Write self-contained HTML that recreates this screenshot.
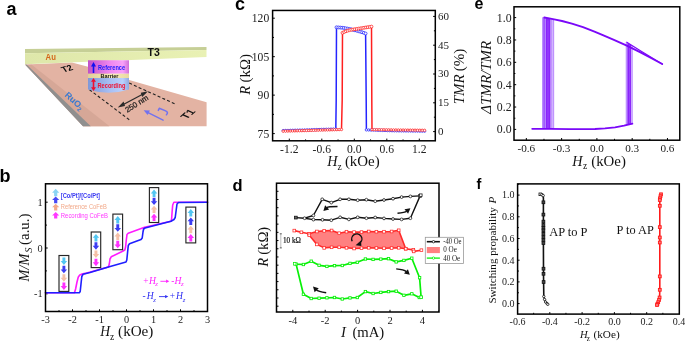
<!DOCTYPE html>
<html><head><meta charset="utf-8"><style>
html,body{margin:0;padding:0;background:#fff;width:685px;height:341px;overflow:hidden}
svg{display:block;will-change:transform}
</style></head><body>
<svg width="685" height="341" viewBox="0 0 685 341">
<defs>
<linearGradient id="gmag" x1="0" x2="1" y1="0" y2="0">
<stop offset="0" stop-color="#c050c8"/><stop offset="0.55" stop-color="#f088f0"/><stop offset="0.85" stop-color="#f8a0f8"/><stop offset="1" stop-color="#d070d8"/></linearGradient>
<linearGradient id="gblu" x1="0" x2="1" y1="0" y2="0">
<stop offset="0" stop-color="#8098d8"/><stop offset="0.55" stop-color="#a8c0f4"/><stop offset="0.85" stop-color="#b8d0fc"/><stop offset="1" stop-color="#90a8e0"/></linearGradient>
<linearGradient id="gbar" x1="0" x2="1" y1="0" y2="0">
<stop offset="0" stop-color="#e0d098"/><stop offset="0.6" stop-color="#f8ecb8"/><stop offset="1" stop-color="#e8d8a0"/></linearGradient>
<linearGradient id="gau" x1="0" x2="1" y1="0" y2="0"><stop offset="0" stop-color="#dee7aa"/><stop offset="1" stop-color="#e9f1b4"/></linearGradient>
</defs><polygon points="25,64.5 72,62.5 88,66.8 129.2,79.9 206.6,102.2 206.6,126.2 83.1,126.2" fill="#e3b3a3"/><polygon points="25.3,64.8 31.7,64.8 109.5,126.2 83.1,126.2" fill="#d6a797"/><polygon points="25.0,64.6 26.6,64.6 90.8,126.2 82.9,126.2" fill="#8f8f8f"/><polygon points="25,49.1 206.5,47.0 206.5,49.9 25,53.2" fill="#c6cf96"/><polygon points="25,53.2 206.5,49.9 206.5,56.9 25,64.3" fill="url(#gau)"/><line x1="129.2" y1="83.1" x2="175.5" y2="104.1" stroke="#222" stroke-width="1.1" stroke-dasharray="3,2.2"/><line x1="89.5" y1="89.7" x2="130" y2="120.3" stroke="#222" stroke-width="1.1" stroke-dasharray="3,2.2"/><path d="M88,60.3 L129,60.3 L129,73.8 L88,73.8 Z" fill="url(#gmag)"/><path d="M88,73.8 L129,73.8 L129,77.9 L88,77.9 Z" fill="url(#gbar)"/><path d="M88,77.9 L129,77.9 L129,89.5 Q108.5,96 88,89.5 Z" fill="url(#gblu)"/><polygon points="93.5,62 96,66.5 94.3,66.5 94.3,73 92.7,73 92.7,66.5 91,66.5" fill="#1010f0"/><polygon points="93.5,78 96,81.8 94.3,81.8 94.3,87.2 96,87.2 93.5,91 91,87.2 92.7,87.2 92.7,81.8 91,81.8" fill="#f01030"/><text x="98" y="70" font-family='"Liberation Sans", sans-serif' font-size="6.6" font-weight="bold" fill="#1a1aff" textLength="27" lengthAdjust="spacingAndGlyphs">Reference</text><text x="100.5" y="78.2" font-family='"Liberation Sans", sans-serif' font-size="5.4" font-weight="bold" fill="#111" textLength="18" lengthAdjust="spacingAndGlyphs">Barrier</text><text x="97.5" y="87.5" font-family='"Liberation Sans", sans-serif' font-size="6.6" font-weight="bold" fill="#f01030" textLength="28" lengthAdjust="spacingAndGlyphs">Recording</text><text x="45.6" y="59.8" font-family='"Liberation Sans", sans-serif' font-size="8.3" font-weight="bold" fill="#d4661a" textLength="10.3" lengthAdjust="spacingAndGlyphs">Au</text><text x="147.6" y="56.3" font-family='"Liberation Sans", sans-serif' font-size="10.5" font-weight="bold" fill="#111">T3</text><text transform="matrix(0.96,-0.28,0.57,0.82,63.8,72.5)" font-family='"Liberation Sans", sans-serif' font-size="9" font-weight="bold" fill="#111">T2</text><text transform="matrix(0.75,-0.66,0.9,0.42,186.5,119.8)" font-family='"Liberation Sans", sans-serif' font-size="10.8" font-weight="bold" fill="#111">T1</text><text transform="translate(64.2,95.8) rotate(42)" font-family='"Liberation Sans", sans-serif' font-size="8.8" font-weight="bold" fill="#3a7ad0">RuO<tspan font-size="6" dy="2">2</tspan></text><text transform="translate(127.2,112.8) rotate(-32)" font-family='"Liberation Sans", sans-serif' font-size="7.7" fill="#1a1a1a" stroke="#1a1a1a" stroke-width="0.25">250 nm</text><line x1="121" y1="105.8" x2="145" y2="93" stroke="#2a2a2a" stroke-width="1.25"/><polygon points="117.8,107.4 123.6,101.6 125.0,106.0" fill="#2a2a2a"/><polygon points="148.0,91.3 142.2,97.1 140.8,92.7" fill="#2a2a2a"/><line x1="163.1" y1="120.2" x2="147.6" y2="112.3" stroke="#7272ee" stroke-width="1.4" stroke-linecap="round"/><polygon points="143.7,110.3 149.9,110.4 147.6,115.0" fill="#7272ee"/><path d="M158.3,110.4 L159.3,108.3 L165.6,110.9 Q167.9,112.0 167.3,113.4 L166.4,114.8" fill="none" stroke="#7272ee" stroke-width="1.5" stroke-linecap="round" stroke-linejoin="round"/>
<line x1="289.30" y1="140.80" x2="289.30" y2="138.60" stroke="#000" stroke-width="1"/><line x1="305.55" y1="140.80" x2="305.55" y2="139.40" stroke="#000" stroke-width="1"/><line x1="321.80" y1="140.80" x2="321.80" y2="138.60" stroke="#000" stroke-width="1"/><line x1="338.05" y1="140.80" x2="338.05" y2="139.40" stroke="#000" stroke-width="1"/><line x1="354.30" y1="140.80" x2="354.30" y2="138.60" stroke="#000" stroke-width="1"/><line x1="370.55" y1="140.80" x2="370.55" y2="139.40" stroke="#000" stroke-width="1"/><line x1="386.80" y1="140.80" x2="386.80" y2="138.60" stroke="#000" stroke-width="1"/><line x1="403.05" y1="140.80" x2="403.05" y2="139.40" stroke="#000" stroke-width="1"/><line x1="419.30" y1="140.80" x2="419.30" y2="138.60" stroke="#000" stroke-width="1"/><line x1="272.60" y1="133.60" x2="274.80" y2="133.60" stroke="#000" stroke-width="1"/><line x1="272.60" y1="114.37" x2="274.00" y2="114.37" stroke="#000" stroke-width="1"/><line x1="272.60" y1="95.13" x2="274.80" y2="95.13" stroke="#000" stroke-width="1"/><line x1="272.60" y1="75.90" x2="274.00" y2="75.90" stroke="#000" stroke-width="1"/><line x1="272.60" y1="56.67" x2="274.80" y2="56.67" stroke="#000" stroke-width="1"/><line x1="272.60" y1="37.43" x2="274.00" y2="37.43" stroke="#000" stroke-width="1"/><line x1="272.60" y1="18.20" x2="274.80" y2="18.20" stroke="#000" stroke-width="1"/><line x1="435.30" y1="131.60" x2="433.10" y2="131.60" stroke="#000" stroke-width="1"/><line x1="435.30" y1="117.20" x2="433.90" y2="117.20" stroke="#000" stroke-width="1"/><line x1="435.30" y1="102.80" x2="433.10" y2="102.80" stroke="#000" stroke-width="1"/><line x1="435.30" y1="88.40" x2="433.90" y2="88.40" stroke="#000" stroke-width="1"/><line x1="435.30" y1="74.00" x2="433.10" y2="74.00" stroke="#000" stroke-width="1"/><line x1="435.30" y1="59.60" x2="433.90" y2="59.60" stroke="#000" stroke-width="1"/><line x1="435.30" y1="45.20" x2="433.10" y2="45.20" stroke="#000" stroke-width="1"/><line x1="435.30" y1="30.80" x2="433.90" y2="30.80" stroke="#000" stroke-width="1"/><line x1="435.30" y1="16.40" x2="433.10" y2="16.40" stroke="#000" stroke-width="1"/><text x="289.30" y="153.2" font-family='"Liberation Serif", serif' font-size="11.6" text-anchor="middle" fill="#222">-1.2</text><text x="321.80" y="153.2" font-family='"Liberation Serif", serif' font-size="11.6" text-anchor="middle" fill="#222">-0.6</text><text x="354.30" y="153.2" font-family='"Liberation Serif", serif' font-size="11.6" text-anchor="middle" fill="#222">0.0</text><text x="386.80" y="153.2" font-family='"Liberation Serif", serif' font-size="11.6" text-anchor="middle" fill="#222">0.6</text><text x="419.30" y="153.2" font-family='"Liberation Serif", serif' font-size="11.6" text-anchor="middle" fill="#222">1.2</text><text x="269.2" y="137.50" font-family='"Liberation Serif", serif' font-size="11.6" text-anchor="end" fill="#222">75</text><text x="269.2" y="99.03" font-family='"Liberation Serif", serif' font-size="11.6" text-anchor="end" fill="#222">90</text><text x="269.2" y="60.57" font-family='"Liberation Serif", serif' font-size="11.6" text-anchor="end" fill="#222">105</text><text x="269.2" y="22.10" font-family='"Liberation Serif", serif' font-size="11.6" text-anchor="end" fill="#222">120</text><text x="438.0" y="135.00" font-family='"Liberation Serif", serif' font-size="11" text-anchor="start" fill="#222">0</text><text x="438.0" y="106.20" font-family='"Liberation Serif", serif' font-size="11" text-anchor="start" fill="#222">15</text><text x="438.0" y="77.40" font-family='"Liberation Serif", serif' font-size="11" text-anchor="start" fill="#222">30</text><text x="438.0" y="48.60" font-family='"Liberation Serif", serif' font-size="11" text-anchor="start" fill="#222">45</text><text x="438.0" y="19.80" font-family='"Liberation Serif", serif' font-size="11" text-anchor="start" fill="#222">60</text><polyline points="283.20,130.60 335.80,129.00 336.20,100.00 336.50,27.30 343.00,27.80 350.00,29.00 357.00,30.80 362.00,32.20 365.60,33.50 366.20,100.00 366.40,129.90 395.00,130.80 424.60,131.20" fill="none" stroke="#2424ff" stroke-width="1.5" stroke-linejoin="round"/><circle cx="283.20" cy="130.60" r="1.2" fill="#fff" stroke="#2424ff" stroke-width="0.75"/><circle cx="285.59" cy="130.53" r="1.2" fill="#fff" stroke="#2424ff" stroke-width="0.75"/><circle cx="287.98" cy="130.45" r="1.2" fill="#fff" stroke="#2424ff" stroke-width="0.75"/><circle cx="290.37" cy="130.38" r="1.2" fill="#fff" stroke="#2424ff" stroke-width="0.75"/><circle cx="292.76" cy="130.31" r="1.2" fill="#fff" stroke="#2424ff" stroke-width="0.75"/><circle cx="295.15" cy="130.24" r="1.2" fill="#fff" stroke="#2424ff" stroke-width="0.75"/><circle cx="297.55" cy="130.16" r="1.2" fill="#fff" stroke="#2424ff" stroke-width="0.75"/><circle cx="299.94" cy="130.09" r="1.2" fill="#fff" stroke="#2424ff" stroke-width="0.75"/><circle cx="302.33" cy="130.02" r="1.2" fill="#fff" stroke="#2424ff" stroke-width="0.75"/><circle cx="304.72" cy="129.95" r="1.2" fill="#fff" stroke="#2424ff" stroke-width="0.75"/><circle cx="307.11" cy="129.87" r="1.2" fill="#fff" stroke="#2424ff" stroke-width="0.75"/><circle cx="309.50" cy="129.80" r="1.2" fill="#fff" stroke="#2424ff" stroke-width="0.75"/><circle cx="311.89" cy="129.73" r="1.2" fill="#fff" stroke="#2424ff" stroke-width="0.75"/><circle cx="314.28" cy="129.65" r="1.2" fill="#fff" stroke="#2424ff" stroke-width="0.75"/><circle cx="316.67" cy="129.58" r="1.2" fill="#fff" stroke="#2424ff" stroke-width="0.75"/><circle cx="319.06" cy="129.51" r="1.2" fill="#fff" stroke="#2424ff" stroke-width="0.75"/><circle cx="321.45" cy="129.44" r="1.2" fill="#fff" stroke="#2424ff" stroke-width="0.75"/><circle cx="323.85" cy="129.36" r="1.2" fill="#fff" stroke="#2424ff" stroke-width="0.75"/><circle cx="326.24" cy="129.29" r="1.2" fill="#fff" stroke="#2424ff" stroke-width="0.75"/><circle cx="328.63" cy="129.22" r="1.2" fill="#fff" stroke="#2424ff" stroke-width="0.75"/><circle cx="331.02" cy="129.15" r="1.2" fill="#fff" stroke="#2424ff" stroke-width="0.75"/><circle cx="333.41" cy="129.07" r="1.2" fill="#fff" stroke="#2424ff" stroke-width="0.75"/><circle cx="335.80" cy="129.00" r="1.2" fill="#fff" stroke="#2424ff" stroke-width="0.75"/><circle cx="336.50" cy="27.30" r="1.45" fill="#fff" stroke="#2424ff" stroke-width="0.75"/><circle cx="338.36" cy="27.44" r="1.45" fill="#fff" stroke="#2424ff" stroke-width="0.75"/><circle cx="340.22" cy="27.59" r="1.45" fill="#fff" stroke="#2424ff" stroke-width="0.75"/><circle cx="342.08" cy="27.73" r="1.45" fill="#fff" stroke="#2424ff" stroke-width="0.75"/><circle cx="343.93" cy="27.96" r="1.45" fill="#fff" stroke="#2424ff" stroke-width="0.75"/><circle cx="345.77" cy="28.28" r="1.45" fill="#fff" stroke="#2424ff" stroke-width="0.75"/><circle cx="347.61" cy="28.59" r="1.45" fill="#fff" stroke="#2424ff" stroke-width="0.75"/><circle cx="349.45" cy="28.91" r="1.45" fill="#fff" stroke="#2424ff" stroke-width="0.75"/><circle cx="351.27" cy="29.33" r="1.45" fill="#fff" stroke="#2424ff" stroke-width="0.75"/><circle cx="353.08" cy="29.79" r="1.45" fill="#fff" stroke="#2424ff" stroke-width="0.75"/><circle cx="354.89" cy="30.26" r="1.45" fill="#fff" stroke="#2424ff" stroke-width="0.75"/><circle cx="356.70" cy="30.72" r="1.45" fill="#fff" stroke="#2424ff" stroke-width="0.75"/><circle cx="358.50" cy="31.22" r="1.45" fill="#fff" stroke="#2424ff" stroke-width="0.75"/><circle cx="360.29" cy="31.72" r="1.45" fill="#fff" stroke="#2424ff" stroke-width="0.75"/><circle cx="362.09" cy="32.23" r="1.45" fill="#fff" stroke="#2424ff" stroke-width="0.75"/><circle cx="363.84" cy="32.87" r="1.45" fill="#fff" stroke="#2424ff" stroke-width="0.75"/><circle cx="365.60" cy="33.50" r="1.45" fill="#fff" stroke="#2424ff" stroke-width="0.75"/><circle cx="366.40" cy="129.90" r="1.2" fill="#fff" stroke="#2424ff" stroke-width="0.75"/><circle cx="368.73" cy="129.97" r="1.2" fill="#fff" stroke="#2424ff" stroke-width="0.75"/><circle cx="371.06" cy="130.05" r="1.2" fill="#fff" stroke="#2424ff" stroke-width="0.75"/><circle cx="373.38" cy="130.12" r="1.2" fill="#fff" stroke="#2424ff" stroke-width="0.75"/><circle cx="375.71" cy="130.19" r="1.2" fill="#fff" stroke="#2424ff" stroke-width="0.75"/><circle cx="378.04" cy="130.27" r="1.2" fill="#fff" stroke="#2424ff" stroke-width="0.75"/><circle cx="380.37" cy="130.34" r="1.2" fill="#fff" stroke="#2424ff" stroke-width="0.75"/><circle cx="382.69" cy="130.41" r="1.2" fill="#fff" stroke="#2424ff" stroke-width="0.75"/><circle cx="385.02" cy="130.49" r="1.2" fill="#fff" stroke="#2424ff" stroke-width="0.75"/><circle cx="387.35" cy="130.56" r="1.2" fill="#fff" stroke="#2424ff" stroke-width="0.75"/><circle cx="389.68" cy="130.63" r="1.2" fill="#fff" stroke="#2424ff" stroke-width="0.75"/><circle cx="392.00" cy="130.71" r="1.2" fill="#fff" stroke="#2424ff" stroke-width="0.75"/><circle cx="394.33" cy="130.78" r="1.2" fill="#fff" stroke="#2424ff" stroke-width="0.75"/><circle cx="396.66" cy="130.82" r="1.2" fill="#fff" stroke="#2424ff" stroke-width="0.75"/><circle cx="398.99" cy="130.85" r="1.2" fill="#fff" stroke="#2424ff" stroke-width="0.75"/><circle cx="401.32" cy="130.89" r="1.2" fill="#fff" stroke="#2424ff" stroke-width="0.75"/><circle cx="403.64" cy="130.92" r="1.2" fill="#fff" stroke="#2424ff" stroke-width="0.75"/><circle cx="405.97" cy="130.95" r="1.2" fill="#fff" stroke="#2424ff" stroke-width="0.75"/><circle cx="408.30" cy="130.98" r="1.2" fill="#fff" stroke="#2424ff" stroke-width="0.75"/><circle cx="410.63" cy="131.01" r="1.2" fill="#fff" stroke="#2424ff" stroke-width="0.75"/><circle cx="412.96" cy="131.04" r="1.2" fill="#fff" stroke="#2424ff" stroke-width="0.75"/><circle cx="415.29" cy="131.07" r="1.2" fill="#fff" stroke="#2424ff" stroke-width="0.75"/><circle cx="417.61" cy="131.11" r="1.2" fill="#fff" stroke="#2424ff" stroke-width="0.75"/><circle cx="419.94" cy="131.14" r="1.2" fill="#fff" stroke="#2424ff" stroke-width="0.75"/><circle cx="422.27" cy="131.17" r="1.2" fill="#fff" stroke="#2424ff" stroke-width="0.75"/><circle cx="424.60" cy="131.20" r="1.2" fill="#fff" stroke="#2424ff" stroke-width="0.75"/><polyline points="283.20,131.20 341.50,129.50 342.20,100.00 342.50,32.80 346.00,31.20 350.00,30.00 355.00,29.20 360.00,28.40 365.00,27.60 371.50,26.60 371.80,100.00 372.00,129.60 400.00,130.00 424.60,130.30" fill="none" stroke="#ff2020" stroke-width="1.5" stroke-linejoin="round"/><circle cx="283.20" cy="131.20" r="1.2" fill="#fff" stroke="#ff2020" stroke-width="0.75"/><circle cx="285.53" cy="131.13" r="1.2" fill="#fff" stroke="#ff2020" stroke-width="0.75"/><circle cx="287.86" cy="131.06" r="1.2" fill="#fff" stroke="#ff2020" stroke-width="0.75"/><circle cx="290.20" cy="131.00" r="1.2" fill="#fff" stroke="#ff2020" stroke-width="0.75"/><circle cx="292.53" cy="130.93" r="1.2" fill="#fff" stroke="#ff2020" stroke-width="0.75"/><circle cx="294.86" cy="130.86" r="1.2" fill="#fff" stroke="#ff2020" stroke-width="0.75"/><circle cx="297.19" cy="130.79" r="1.2" fill="#fff" stroke="#ff2020" stroke-width="0.75"/><circle cx="299.52" cy="130.72" r="1.2" fill="#fff" stroke="#ff2020" stroke-width="0.75"/><circle cx="301.86" cy="130.66" r="1.2" fill="#fff" stroke="#ff2020" stroke-width="0.75"/><circle cx="304.19" cy="130.59" r="1.2" fill="#fff" stroke="#ff2020" stroke-width="0.75"/><circle cx="306.52" cy="130.52" r="1.2" fill="#fff" stroke="#ff2020" stroke-width="0.75"/><circle cx="308.85" cy="130.45" r="1.2" fill="#fff" stroke="#ff2020" stroke-width="0.75"/><circle cx="311.18" cy="130.38" r="1.2" fill="#fff" stroke="#ff2020" stroke-width="0.75"/><circle cx="313.52" cy="130.32" r="1.2" fill="#fff" stroke="#ff2020" stroke-width="0.75"/><circle cx="315.85" cy="130.25" r="1.2" fill="#fff" stroke="#ff2020" stroke-width="0.75"/><circle cx="318.18" cy="130.18" r="1.2" fill="#fff" stroke="#ff2020" stroke-width="0.75"/><circle cx="320.51" cy="130.11" r="1.2" fill="#fff" stroke="#ff2020" stroke-width="0.75"/><circle cx="322.84" cy="130.04" r="1.2" fill="#fff" stroke="#ff2020" stroke-width="0.75"/><circle cx="325.18" cy="129.98" r="1.2" fill="#fff" stroke="#ff2020" stroke-width="0.75"/><circle cx="327.51" cy="129.91" r="1.2" fill="#fff" stroke="#ff2020" stroke-width="0.75"/><circle cx="329.84" cy="129.84" r="1.2" fill="#fff" stroke="#ff2020" stroke-width="0.75"/><circle cx="332.17" cy="129.77" r="1.2" fill="#fff" stroke="#ff2020" stroke-width="0.75"/><circle cx="334.50" cy="129.70" r="1.2" fill="#fff" stroke="#ff2020" stroke-width="0.75"/><circle cx="336.84" cy="129.64" r="1.2" fill="#fff" stroke="#ff2020" stroke-width="0.75"/><circle cx="339.17" cy="129.57" r="1.2" fill="#fff" stroke="#ff2020" stroke-width="0.75"/><circle cx="341.50" cy="129.50" r="1.2" fill="#fff" stroke="#ff2020" stroke-width="0.75"/><circle cx="342.50" cy="32.80" r="1.45" fill="#fff" stroke="#ff2020" stroke-width="0.75"/><circle cx="344.19" cy="32.03" r="1.45" fill="#fff" stroke="#ff2020" stroke-width="0.75"/><circle cx="345.89" cy="31.25" r="1.45" fill="#fff" stroke="#ff2020" stroke-width="0.75"/><circle cx="347.66" cy="30.70" r="1.45" fill="#fff" stroke="#ff2020" stroke-width="0.75"/><circle cx="349.45" cy="30.17" r="1.45" fill="#fff" stroke="#ff2020" stroke-width="0.75"/><circle cx="351.27" cy="29.80" r="1.45" fill="#fff" stroke="#ff2020" stroke-width="0.75"/><circle cx="353.11" cy="29.50" r="1.45" fill="#fff" stroke="#ff2020" stroke-width="0.75"/><circle cx="354.95" cy="29.21" r="1.45" fill="#fff" stroke="#ff2020" stroke-width="0.75"/><circle cx="356.79" cy="28.91" r="1.45" fill="#fff" stroke="#ff2020" stroke-width="0.75"/><circle cx="358.62" cy="28.62" r="1.45" fill="#fff" stroke="#ff2020" stroke-width="0.75"/><circle cx="360.46" cy="28.33" r="1.45" fill="#fff" stroke="#ff2020" stroke-width="0.75"/><circle cx="362.30" cy="28.03" r="1.45" fill="#fff" stroke="#ff2020" stroke-width="0.75"/><circle cx="364.14" cy="27.74" r="1.45" fill="#fff" stroke="#ff2020" stroke-width="0.75"/><circle cx="365.98" cy="27.45" r="1.45" fill="#fff" stroke="#ff2020" stroke-width="0.75"/><circle cx="367.82" cy="27.17" r="1.45" fill="#fff" stroke="#ff2020" stroke-width="0.75"/><circle cx="369.66" cy="26.88" r="1.45" fill="#fff" stroke="#ff2020" stroke-width="0.75"/><circle cx="371.50" cy="26.60" r="1.45" fill="#fff" stroke="#ff2020" stroke-width="0.75"/><circle cx="372.00" cy="129.60" r="1.2" fill="#fff" stroke="#ff2020" stroke-width="0.75"/><circle cx="374.39" cy="129.63" r="1.2" fill="#fff" stroke="#ff2020" stroke-width="0.75"/><circle cx="376.78" cy="129.67" r="1.2" fill="#fff" stroke="#ff2020" stroke-width="0.75"/><circle cx="379.17" cy="129.70" r="1.2" fill="#fff" stroke="#ff2020" stroke-width="0.75"/><circle cx="381.56" cy="129.74" r="1.2" fill="#fff" stroke="#ff2020" stroke-width="0.75"/><circle cx="383.95" cy="129.77" r="1.2" fill="#fff" stroke="#ff2020" stroke-width="0.75"/><circle cx="386.35" cy="129.80" r="1.2" fill="#fff" stroke="#ff2020" stroke-width="0.75"/><circle cx="388.74" cy="129.84" r="1.2" fill="#fff" stroke="#ff2020" stroke-width="0.75"/><circle cx="391.13" cy="129.87" r="1.2" fill="#fff" stroke="#ff2020" stroke-width="0.75"/><circle cx="393.52" cy="129.91" r="1.2" fill="#fff" stroke="#ff2020" stroke-width="0.75"/><circle cx="395.91" cy="129.94" r="1.2" fill="#fff" stroke="#ff2020" stroke-width="0.75"/><circle cx="398.30" cy="129.98" r="1.2" fill="#fff" stroke="#ff2020" stroke-width="0.75"/><circle cx="400.69" cy="130.01" r="1.2" fill="#fff" stroke="#ff2020" stroke-width="0.75"/><circle cx="403.08" cy="130.04" r="1.2" fill="#fff" stroke="#ff2020" stroke-width="0.75"/><circle cx="405.47" cy="130.07" r="1.2" fill="#fff" stroke="#ff2020" stroke-width="0.75"/><circle cx="407.86" cy="130.10" r="1.2" fill="#fff" stroke="#ff2020" stroke-width="0.75"/><circle cx="410.25" cy="130.13" r="1.2" fill="#fff" stroke="#ff2020" stroke-width="0.75"/><circle cx="412.65" cy="130.15" r="1.2" fill="#fff" stroke="#ff2020" stroke-width="0.75"/><circle cx="415.04" cy="130.18" r="1.2" fill="#fff" stroke="#ff2020" stroke-width="0.75"/><circle cx="417.43" cy="130.21" r="1.2" fill="#fff" stroke="#ff2020" stroke-width="0.75"/><circle cx="419.82" cy="130.24" r="1.2" fill="#fff" stroke="#ff2020" stroke-width="0.75"/><circle cx="422.21" cy="130.27" r="1.2" fill="#fff" stroke="#ff2020" stroke-width="0.75"/><circle cx="424.60" cy="130.30" r="1.2" fill="#fff" stroke="#ff2020" stroke-width="0.75"/><rect x="272.6" y="10.45" width="162.70" height="130.35" fill="none" stroke="#000" stroke-width="1.5"/>
<line x1="276.60" y1="312.00" x2="276.60" y2="310.60" stroke="#000" stroke-width="1"/><line x1="292.80" y1="312.00" x2="292.80" y2="309.80" stroke="#000" stroke-width="1"/><line x1="309.00" y1="312.00" x2="309.00" y2="310.60" stroke="#000" stroke-width="1"/><line x1="325.20" y1="312.00" x2="325.20" y2="309.80" stroke="#000" stroke-width="1"/><line x1="341.40" y1="312.00" x2="341.40" y2="310.60" stroke="#000" stroke-width="1"/><line x1="357.60" y1="312.00" x2="357.60" y2="309.80" stroke="#000" stroke-width="1"/><line x1="373.80" y1="312.00" x2="373.80" y2="310.60" stroke="#000" stroke-width="1"/><line x1="390.00" y1="312.00" x2="390.00" y2="309.80" stroke="#000" stroke-width="1"/><line x1="406.20" y1="312.00" x2="406.20" y2="310.60" stroke="#000" stroke-width="1"/><line x1="422.40" y1="312.00" x2="422.40" y2="309.80" stroke="#000" stroke-width="1"/><line x1="438.60" y1="312.00" x2="438.60" y2="310.60" stroke="#000" stroke-width="1"/><line x1="276.50" y1="191.30" x2="278.50" y2="191.30" stroke="#000" stroke-width="1"/><line x1="276.50" y1="199.51" x2="278.50" y2="199.51" stroke="#000" stroke-width="1"/><line x1="276.50" y1="207.71" x2="278.50" y2="207.71" stroke="#000" stroke-width="1"/><line x1="276.50" y1="215.92" x2="278.50" y2="215.92" stroke="#000" stroke-width="1"/><line x1="276.50" y1="224.13" x2="278.50" y2="224.13" stroke="#000" stroke-width="1"/><line x1="276.50" y1="232.34" x2="278.50" y2="232.34" stroke="#000" stroke-width="1"/><line x1="276.50" y1="240.54" x2="278.50" y2="240.54" stroke="#000" stroke-width="1"/><line x1="276.50" y1="248.75" x2="278.50" y2="248.75" stroke="#000" stroke-width="1"/><line x1="276.50" y1="256.96" x2="278.50" y2="256.96" stroke="#000" stroke-width="1"/><line x1="276.50" y1="265.16" x2="278.50" y2="265.16" stroke="#000" stroke-width="1"/><line x1="276.50" y1="273.37" x2="278.50" y2="273.37" stroke="#000" stroke-width="1"/><line x1="276.50" y1="281.58" x2="278.50" y2="281.58" stroke="#000" stroke-width="1"/><line x1="276.50" y1="289.78" x2="278.50" y2="289.78" stroke="#000" stroke-width="1"/><line x1="276.50" y1="297.99" x2="278.50" y2="297.99" stroke="#000" stroke-width="1"/><line x1="276.50" y1="306.20" x2="278.50" y2="306.20" stroke="#000" stroke-width="1"/><text x="292.80" y="323.7" font-family='"Liberation Serif", serif' font-size="10.5" text-anchor="middle" fill="#222">-4</text><text x="325.20" y="323.7" font-family='"Liberation Serif", serif' font-size="10.5" text-anchor="middle" fill="#222">-2</text><text x="357.60" y="323.7" font-family='"Liberation Serif", serif' font-size="10.5" text-anchor="middle" fill="#222">0</text><text x="390.00" y="323.7" font-family='"Liberation Serif", serif' font-size="10.5" text-anchor="middle" fill="#222">2</text><text x="422.40" y="323.7" font-family='"Liberation Serif", serif' font-size="10.5" text-anchor="middle" fill="#222">4</text><line x1="280.80" y1="233.80" x2="280.80" y2="247.90" stroke="#aaa" stroke-width="0.8"/><line x1="279.80" y1="233.80" x2="281.80" y2="233.80" stroke="#333" stroke-width="0.8"/><line x1="279.80" y1="247.90" x2="281.80" y2="247.90" stroke="#333" stroke-width="0.8"/><text x="283" y="242.6" font-family='"Liberation Serif", serif' font-size="7.2" fill="#111" stroke="#111" stroke-width="0.2">10 kΩ</text><polygon points="309.10,233.80 316.90,231.50 324.20,230.90 331.60,230.50 339.20,233.20 346.50,231.70 354.10,232.10 361.50,232.10 368.70,231.50 376.40,231.70 384.00,231.70 391.60,231.50 398.70,230.30 405.70,248.70 405.70,248.70 398.70,247.80 391.60,248.00 384.00,248.30 376.40,248.00 368.70,247.80 361.50,248.20 354.10,248.50 346.50,247.80 339.20,247.30 331.60,247.30 324.20,247.90 316.90,244.40 309.30,235.30" fill="#ff8080" stroke="none" stroke-width="0" stroke-linejoin="round"/><polyline points="294.30,230.60 301.40,232.30 309.10,233.80 309.10,233.80 316.90,231.50 324.20,230.90 331.60,230.50 339.20,233.20 346.50,231.70 354.10,232.10 361.50,232.10 368.70,231.50 376.40,231.70 384.00,231.70 391.60,231.50 398.70,230.30" fill="none" stroke="#ff2a2a" stroke-width="1.6" stroke-linejoin="round"/><polyline points="309.10,233.80 309.30,235.30 316.90,244.40 324.20,247.90 331.60,247.30 339.20,247.30 346.50,247.80 354.10,248.50 361.50,248.20 368.70,247.80 376.40,248.00 384.00,248.30 391.60,248.00 398.70,247.80 405.70,248.70" fill="none" stroke="#ff2a2a" stroke-width="1.6" stroke-linejoin="round"/><polyline points="398.70,230.30 405.70,248.70 413.30,249.90 413.70,251.40 421.40,250.20" fill="none" stroke="#ff2a2a" stroke-width="1.6" stroke-linejoin="round"/><rect x="292.95" y="229.25" width="2.7" height="2.7" fill="#fff" stroke="#ff2a2a" stroke-width="0.75"/><rect x="300.05" y="230.95" width="2.7" height="2.7" fill="#fff" stroke="#ff2a2a" stroke-width="0.75"/><rect x="307.75" y="232.45" width="2.7" height="2.7" fill="#fff" stroke="#ff2a2a" stroke-width="0.75"/><rect x="307.75" y="232.45" width="2.7" height="2.7" fill="#fff" stroke="#ff2a2a" stroke-width="0.75"/><rect x="315.55" y="230.15" width="2.7" height="2.7" fill="#fff" stroke="#ff2a2a" stroke-width="0.75"/><rect x="322.85" y="229.55" width="2.7" height="2.7" fill="#fff" stroke="#ff2a2a" stroke-width="0.75"/><rect x="330.25" y="229.15" width="2.7" height="2.7" fill="#fff" stroke="#ff2a2a" stroke-width="0.75"/><rect x="337.85" y="231.85" width="2.7" height="2.7" fill="#fff" stroke="#ff2a2a" stroke-width="0.75"/><rect x="345.15" y="230.35" width="2.7" height="2.7" fill="#fff" stroke="#ff2a2a" stroke-width="0.75"/><rect x="352.75" y="230.75" width="2.7" height="2.7" fill="#fff" stroke="#ff2a2a" stroke-width="0.75"/><rect x="360.15" y="230.75" width="2.7" height="2.7" fill="#fff" stroke="#ff2a2a" stroke-width="0.75"/><rect x="367.35" y="230.15" width="2.7" height="2.7" fill="#fff" stroke="#ff2a2a" stroke-width="0.75"/><rect x="375.05" y="230.35" width="2.7" height="2.7" fill="#fff" stroke="#ff2a2a" stroke-width="0.75"/><rect x="382.65" y="230.35" width="2.7" height="2.7" fill="#fff" stroke="#ff2a2a" stroke-width="0.75"/><rect x="390.25" y="230.15" width="2.7" height="2.7" fill="#fff" stroke="#ff2a2a" stroke-width="0.75"/><rect x="397.35" y="228.95" width="2.7" height="2.7" fill="#fff" stroke="#ff2a2a" stroke-width="0.75"/><rect x="307.95" y="233.95" width="2.7" height="2.7" fill="#fff" stroke="#ff2a2a" stroke-width="0.75"/><rect x="315.55" y="243.05" width="2.7" height="2.7" fill="#fff" stroke="#ff2a2a" stroke-width="0.75"/><rect x="322.85" y="246.55" width="2.7" height="2.7" fill="#fff" stroke="#ff2a2a" stroke-width="0.75"/><rect x="330.25" y="245.95" width="2.7" height="2.7" fill="#fff" stroke="#ff2a2a" stroke-width="0.75"/><rect x="337.85" y="245.95" width="2.7" height="2.7" fill="#fff" stroke="#ff2a2a" stroke-width="0.75"/><rect x="345.15" y="246.45" width="2.7" height="2.7" fill="#fff" stroke="#ff2a2a" stroke-width="0.75"/><rect x="352.75" y="247.15" width="2.7" height="2.7" fill="#fff" stroke="#ff2a2a" stroke-width="0.75"/><rect x="360.15" y="246.85" width="2.7" height="2.7" fill="#fff" stroke="#ff2a2a" stroke-width="0.75"/><rect x="367.35" y="246.45" width="2.7" height="2.7" fill="#fff" stroke="#ff2a2a" stroke-width="0.75"/><rect x="375.05" y="246.65" width="2.7" height="2.7" fill="#fff" stroke="#ff2a2a" stroke-width="0.75"/><rect x="382.65" y="246.95" width="2.7" height="2.7" fill="#fff" stroke="#ff2a2a" stroke-width="0.75"/><rect x="390.25" y="246.65" width="2.7" height="2.7" fill="#fff" stroke="#ff2a2a" stroke-width="0.75"/><rect x="397.35" y="246.45" width="2.7" height="2.7" fill="#fff" stroke="#ff2a2a" stroke-width="0.75"/><rect x="404.35" y="247.35" width="2.7" height="2.7" fill="#fff" stroke="#ff2a2a" stroke-width="0.75"/><rect x="404.35" y="247.35" width="2.7" height="2.7" fill="#fff" stroke="#ff2a2a" stroke-width="0.75"/><rect x="411.95" y="248.55" width="2.7" height="2.7" fill="#fff" stroke="#ff2a2a" stroke-width="0.75"/><rect x="412.35" y="250.05" width="2.7" height="2.7" fill="#fff" stroke="#ff2a2a" stroke-width="0.75"/><rect x="420.05" y="248.85" width="2.7" height="2.7" fill="#fff" stroke="#ff2a2a" stroke-width="0.75"/><path d="M352.2,241.2 A5.1,5.1 0 1 1 360.4,242.6" fill="none" stroke="#111" stroke-width="1.4"/><polygon points="355.6,245.3 361.4,245.9 361.0,240.6" fill="#111"/><polyline points="295.80,217.60 304.60,218.20 313.40,215.50 322.20,199.30 331.30,202.60 340.10,199.30 348.90,199.30 357.70,200.20 366.40,199.70 375.20,201.20 384.00,200.00 393.00,198.70 401.60,197.10 410.40,196.40 420.10,195.90" fill="none" stroke="#111" stroke-width="1.4" stroke-linejoin="round"/><polyline points="304.60,218.20 313.40,219.60 322.50,219.80 331.30,220.20 340.10,217.30 348.90,219.40 357.70,217.30 366.40,218.20 375.20,217.50 384.00,218.40 393.00,219.00 401.60,219.40 410.40,218.20 420.10,195.90" fill="none" stroke="#111" stroke-width="1.4" stroke-linejoin="round"/><circle cx="304.60" cy="218.20" r="1.4" fill="#fff" stroke="#111" stroke-width="0.75"/><circle cx="313.40" cy="215.50" r="1.4" fill="#fff" stroke="#111" stroke-width="0.75"/><circle cx="322.20" cy="199.30" r="1.4" fill="#fff" stroke="#111" stroke-width="0.75"/><circle cx="331.30" cy="202.60" r="1.4" fill="#fff" stroke="#111" stroke-width="0.75"/><circle cx="340.10" cy="199.30" r="1.4" fill="#fff" stroke="#111" stroke-width="0.75"/><circle cx="348.90" cy="199.30" r="1.4" fill="#fff" stroke="#111" stroke-width="0.75"/><circle cx="357.70" cy="200.20" r="1.4" fill="#fff" stroke="#111" stroke-width="0.75"/><circle cx="366.40" cy="199.70" r="1.4" fill="#fff" stroke="#111" stroke-width="0.75"/><circle cx="375.20" cy="201.20" r="1.4" fill="#fff" stroke="#111" stroke-width="0.75"/><circle cx="384.00" cy="200.00" r="1.4" fill="#fff" stroke="#111" stroke-width="0.75"/><circle cx="393.00" cy="198.70" r="1.4" fill="#fff" stroke="#111" stroke-width="0.75"/><circle cx="401.60" cy="197.10" r="1.4" fill="#fff" stroke="#111" stroke-width="0.75"/><circle cx="410.40" cy="196.40" r="1.4" fill="#fff" stroke="#111" stroke-width="0.75"/><circle cx="313.40" cy="219.60" r="1.4" fill="#fff" stroke="#111" stroke-width="0.75"/><circle cx="322.50" cy="219.80" r="1.4" fill="#fff" stroke="#111" stroke-width="0.75"/><circle cx="331.30" cy="220.20" r="1.4" fill="#fff" stroke="#111" stroke-width="0.75"/><circle cx="340.10" cy="217.30" r="1.4" fill="#fff" stroke="#111" stroke-width="0.75"/><circle cx="348.90" cy="219.40" r="1.4" fill="#fff" stroke="#111" stroke-width="0.75"/><circle cx="357.70" cy="217.30" r="1.4" fill="#fff" stroke="#111" stroke-width="0.75"/><circle cx="366.40" cy="218.20" r="1.4" fill="#fff" stroke="#111" stroke-width="0.75"/><circle cx="375.20" cy="217.50" r="1.4" fill="#fff" stroke="#111" stroke-width="0.75"/><circle cx="384.00" cy="218.40" r="1.4" fill="#fff" stroke="#111" stroke-width="0.75"/><circle cx="393.00" cy="219.00" r="1.4" fill="#fff" stroke="#111" stroke-width="0.75"/><circle cx="401.60" cy="219.40" r="1.4" fill="#fff" stroke="#111" stroke-width="0.75"/><circle cx="410.40" cy="218.20" r="1.4" fill="#fff" stroke="#111" stroke-width="0.75"/><rect x="294.40" y="216.20" width="2.8" height="2.8" fill="#666" stroke="#111" stroke-width="0.75"/><rect x="418.70" y="194.50" width="2.8" height="2.8" fill="#fff" stroke="#111" stroke-width="0.75"/><rect x="419.50" y="193.90" width="2.6" height="2.6" fill="#fff" stroke="#111" stroke-width="0.75"/><path d="M337.50,206.50 Q328.00,206.50 326.76,207.71" fill="none" stroke="#111" stroke-width="1.4"/><polygon points="323.40,211.00 325.09,205.29 329.15,209.44" fill="#111"/><path d="M397.50,213.20 Q405.00,212.50 406.69,211.19" fill="none" stroke="#111" stroke-width="1.4"/><polygon points="410.40,208.30 408.08,213.78 404.51,209.20" fill="#111"/><polyline points="294.70,263.80 296.10,264.10 303.40,264.50 311.20,261.20 319.10,265.30 326.90,266.40 334.50,265.70 342.30,265.50 350.00,263.40 357.30,262.30 365.40,259.00 373.10,259.40 380.80,259.10 388.50,258.70 396.20,261.90 403.90,260.40 411.80,258.20 419.60,277.70 421.10,297.20" fill="none" stroke="#08f008" stroke-width="1.7" stroke-linejoin="round"/><polyline points="296.10,264.10 303.40,294.30 311.20,298.50 319.10,298.20 326.90,297.80 334.50,297.50 342.30,299.00 350.00,297.90 357.30,297.50 365.40,291.60 373.10,293.50 380.80,292.40 388.50,291.60 396.20,291.20 403.90,295.30 411.80,293.80 419.30,297.50 421.10,297.20" fill="none" stroke="#08f008" stroke-width="1.7" stroke-linejoin="round"/><rect x="294.90" y="262.90" width="2.4" height="2.4" fill="#fff" stroke="#08f008" stroke-width="0.85"/><rect x="302.20" y="263.30" width="2.4" height="2.4" fill="#fff" stroke="#08f008" stroke-width="0.85"/><rect x="310.00" y="260.00" width="2.4" height="2.4" fill="#fff" stroke="#08f008" stroke-width="0.85"/><rect x="317.90" y="264.10" width="2.4" height="2.4" fill="#fff" stroke="#08f008" stroke-width="0.85"/><rect x="325.70" y="265.20" width="2.4" height="2.4" fill="#fff" stroke="#08f008" stroke-width="0.85"/><rect x="333.30" y="264.50" width="2.4" height="2.4" fill="#fff" stroke="#08f008" stroke-width="0.85"/><rect x="341.10" y="264.30" width="2.4" height="2.4" fill="#fff" stroke="#08f008" stroke-width="0.85"/><rect x="348.80" y="262.20" width="2.4" height="2.4" fill="#fff" stroke="#08f008" stroke-width="0.85"/><rect x="356.10" y="261.10" width="2.4" height="2.4" fill="#fff" stroke="#08f008" stroke-width="0.85"/><rect x="364.20" y="257.80" width="2.4" height="2.4" fill="#fff" stroke="#08f008" stroke-width="0.85"/><rect x="371.90" y="258.20" width="2.4" height="2.4" fill="#fff" stroke="#08f008" stroke-width="0.85"/><rect x="379.60" y="257.90" width="2.4" height="2.4" fill="#fff" stroke="#08f008" stroke-width="0.85"/><rect x="387.30" y="257.50" width="2.4" height="2.4" fill="#fff" stroke="#08f008" stroke-width="0.85"/><rect x="395.00" y="260.70" width="2.4" height="2.4" fill="#fff" stroke="#08f008" stroke-width="0.85"/><rect x="402.70" y="259.20" width="2.4" height="2.4" fill="#fff" stroke="#08f008" stroke-width="0.85"/><rect x="410.60" y="257.00" width="2.4" height="2.4" fill="#fff" stroke="#08f008" stroke-width="0.85"/><rect x="418.40" y="276.50" width="2.4" height="2.4" fill="#fff" stroke="#08f008" stroke-width="0.85"/><rect x="302.20" y="293.10" width="2.4" height="2.4" fill="#fff" stroke="#08f008" stroke-width="0.85"/><rect x="310.00" y="297.30" width="2.4" height="2.4" fill="#fff" stroke="#08f008" stroke-width="0.85"/><rect x="317.90" y="297.00" width="2.4" height="2.4" fill="#fff" stroke="#08f008" stroke-width="0.85"/><rect x="325.70" y="296.60" width="2.4" height="2.4" fill="#fff" stroke="#08f008" stroke-width="0.85"/><rect x="333.30" y="296.30" width="2.4" height="2.4" fill="#fff" stroke="#08f008" stroke-width="0.85"/><rect x="341.10" y="297.80" width="2.4" height="2.4" fill="#fff" stroke="#08f008" stroke-width="0.85"/><rect x="348.80" y="296.70" width="2.4" height="2.4" fill="#fff" stroke="#08f008" stroke-width="0.85"/><rect x="356.10" y="296.30" width="2.4" height="2.4" fill="#fff" stroke="#08f008" stroke-width="0.85"/><rect x="364.20" y="290.40" width="2.4" height="2.4" fill="#fff" stroke="#08f008" stroke-width="0.85"/><rect x="371.90" y="292.30" width="2.4" height="2.4" fill="#fff" stroke="#08f008" stroke-width="0.85"/><rect x="379.60" y="291.20" width="2.4" height="2.4" fill="#fff" stroke="#08f008" stroke-width="0.85"/><rect x="387.30" y="290.40" width="2.4" height="2.4" fill="#fff" stroke="#08f008" stroke-width="0.85"/><rect x="395.00" y="290.00" width="2.4" height="2.4" fill="#fff" stroke="#08f008" stroke-width="0.85"/><rect x="402.70" y="294.10" width="2.4" height="2.4" fill="#fff" stroke="#08f008" stroke-width="0.85"/><rect x="410.60" y="292.60" width="2.4" height="2.4" fill="#fff" stroke="#08f008" stroke-width="0.85"/><rect x="418.10" y="296.30" width="2.4" height="2.4" fill="#fff" stroke="#08f008" stroke-width="0.85"/><rect x="419.90" y="296.00" width="2.4" height="2.4" fill="#fff" stroke="#08f008" stroke-width="0.85"/><rect x="293.40" y="262.50" width="2.6" height="2.6" fill="#fff" stroke="#08f008" stroke-width="0.75"/><rect x="419.80" y="295.90" width="2.6" height="2.6" fill="#fff" stroke="#08f008" stroke-width="0.75"/><path d="M326.20,292.80 Q318.00,291.50 316.32,289.82" fill="none" stroke="#111" stroke-width="1.4"/><polygon points="313.00,286.50 318.73,288.13 314.63,292.23" fill="#111"/><path d="M396.20,268.90 Q404.00,269.50 406.33,271.63" fill="none" stroke="#111" stroke-width="1.4"/><polygon points="409.80,274.80 404.01,273.43 407.92,269.15" fill="#111"/><rect x="276.5" y="183.2" width="162.50" height="128.80" fill="none" stroke="#000" stroke-width="1.5"/><rect x="425.3" y="237.3" width="38.3" height="26.1" fill="#fff" stroke="#999" stroke-width="0.8"/><line x1="426.80" y1="241.70" x2="439.90" y2="241.70" stroke="#111" stroke-width="1.6"/><circle cx="433.50" cy="241.70" r="1.2" fill="#fff" stroke="#111" stroke-width="0.75"/><rect x="426.8" y="247" width="13.1" height="6.1" fill="#ff8080"/><line x1="426.80" y1="258.10" x2="439.90" y2="258.10" stroke="#08f008" stroke-width="1.3"/><circle cx="433.50" cy="258.10" r="1.2" fill="#fff" stroke="#08f008" stroke-width="0.75"/><text x="443.2" y="244.2" font-family='"Liberation Serif", serif' font-size="7.4" fill="#222" textLength="18.4" lengthAdjust="spacingAndGlyphs">-40 Oe</text><text x="443.2" y="252.3" font-family='"Liberation Serif", serif' font-size="7.4" fill="#222" textLength="13.6" lengthAdjust="spacingAndGlyphs">0 Oe</text><text x="443.2" y="260.6" font-family='"Liberation Serif", serif' font-size="7.4" fill="#222" textLength="17.0" lengthAdjust="spacingAndGlyphs">40 Oe</text>
<line x1="526.34" y1="140.20" x2="526.34" y2="138.00" stroke="#000" stroke-width="1" /><line x1="543.98" y1="140.20" x2="543.98" y2="138.80" stroke="#000" stroke-width="1" /><line x1="561.62" y1="140.20" x2="561.62" y2="138.00" stroke="#000" stroke-width="1" /><line x1="579.26" y1="140.20" x2="579.26" y2="138.80" stroke="#000" stroke-width="1" /><line x1="596.90" y1="140.20" x2="596.90" y2="138.00" stroke="#000" stroke-width="1" /><line x1="614.54" y1="140.20" x2="614.54" y2="138.80" stroke="#000" stroke-width="1" /><line x1="632.18" y1="140.20" x2="632.18" y2="138.00" stroke="#000" stroke-width="1" /><line x1="649.82" y1="140.20" x2="649.82" y2="138.80" stroke="#000" stroke-width="1" /><line x1="667.46" y1="140.20" x2="667.46" y2="138.00" stroke="#000" stroke-width="1" /><line x1="514.00" y1="129.40" x2="516.20" y2="129.40" stroke="#000" stroke-width="1" /><line x1="514.00" y1="118.22" x2="515.40" y2="118.22" stroke="#000" stroke-width="1" /><line x1="514.00" y1="107.04" x2="516.20" y2="107.04" stroke="#000" stroke-width="1" /><line x1="514.00" y1="95.86" x2="515.40" y2="95.86" stroke="#000" stroke-width="1" /><line x1="514.00" y1="84.68" x2="516.20" y2="84.68" stroke="#000" stroke-width="1" /><line x1="514.00" y1="73.50" x2="515.40" y2="73.50" stroke="#000" stroke-width="1" /><line x1="514.00" y1="62.32" x2="516.20" y2="62.32" stroke="#000" stroke-width="1" /><line x1="514.00" y1="51.14" x2="515.40" y2="51.14" stroke="#000" stroke-width="1" /><line x1="514.00" y1="39.96" x2="516.20" y2="39.96" stroke="#000" stroke-width="1" /><line x1="514.00" y1="28.78" x2="515.40" y2="28.78" stroke="#000" stroke-width="1" /><line x1="514.00" y1="17.60" x2="516.20" y2="17.60" stroke="#000" stroke-width="1" /><text x="526.34" y="151.9" font-family='"Liberation Serif", serif' font-size="11.2" text-anchor="middle" fill="#222">-0.6</text><text x="561.62" y="151.9" font-family='"Liberation Serif", serif' font-size="11.2" text-anchor="middle" fill="#222">-0.3</text><text x="596.90" y="151.9" font-family='"Liberation Serif", serif' font-size="11.2" text-anchor="middle" fill="#222">0.0</text><text x="632.18" y="151.9" font-family='"Liberation Serif", serif' font-size="11.2" text-anchor="middle" fill="#222">0.3</text><text x="667.46" y="151.9" font-family='"Liberation Serif", serif' font-size="11.2" text-anchor="middle" fill="#222">0.6</text><text x="511.6" y="133.40" font-family='"Liberation Serif", serif' font-size="11.8" text-anchor="end" fill="#222">0.0</text><text x="511.6" y="111.04" font-family='"Liberation Serif", serif' font-size="11.8" text-anchor="end" fill="#222">0.2</text><text x="511.6" y="88.68" font-family='"Liberation Serif", serif' font-size="11.8" text-anchor="end" fill="#222">0.4</text><text x="511.6" y="66.32" font-family='"Liberation Serif", serif' font-size="11.8" text-anchor="end" fill="#222">0.6</text><text x="511.6" y="43.96" font-family='"Liberation Serif", serif' font-size="11.8" text-anchor="end" fill="#222">0.8</text><text x="511.6" y="21.60" font-family='"Liberation Serif", serif' font-size="11.8" text-anchor="end" fill="#222">1.0</text><polygon points="542.2,17.14000000000001 546.0,17.900000000000002 546.0,128.9 542.2,128.9" fill="#b282ff" opacity="1"/><polygon points="546.0,17.900000000000002 550.6,18.820000000000007 550.6,128.9 546.0,128.9" fill="#8a24fb" opacity="1"/><polygon points="550.6,18.820000000000007 554.2,19.54000000000001 554.2,128.9 550.6,128.9" fill="#c9a6ff" opacity="1"/><line x1="543.30" y1="17.36" x2="543.10" y2="128.90" stroke="#7a08f8" stroke-width="0.6" opacity="0.5"/><line x1="544.60" y1="17.62" x2="544.40" y2="128.90" stroke="#7a08f8" stroke-width="0.6" opacity="0.6"/><line x1="551.30" y1="18.96" x2="551.10" y2="128.90" stroke="#7a08f8" stroke-width="0.6" opacity="0.5"/><line x1="553.20" y1="19.34" x2="553.00" y2="128.90" stroke="#7a08f8" stroke-width="0.6" opacity="0.35"/><line x1="552.20" y1="19.14" x2="552.20" y2="128.90" stroke="#e4d4ff" stroke-width="0.7" /><line x1="548.00" y1="20.30" x2="548.00" y2="128.90" stroke="#a868ff" stroke-width="0.5" /><polygon points="625.7,42.035000000000025 627.3,42.91499999999998 627.3,124.9 625.7,124.9" fill="#bc92ff" opacity="1"/><polygon points="627.3,42.91499999999998 631.3,45.11499999999998 631.3,124.5 627.3,124.5" fill="#8a24fb" opacity="1"/><polygon points="631.3,45.11499999999998 632.9,45.99499999999999 632.9,124.2 631.3,124.2" fill="#c6a2ff" opacity="1"/><line x1="629.60" y1="45.18" x2="629.60" y2="124.20" stroke="#a060ff" stroke-width="0.6" /><polyline points="544.30,17.50 548.00,18.10 554.20,19.40 562.00,21.00 571.90,23.60 583.00,27.20 594.50,31.60 604.00,35.60 613.90,39.90 626.80,45.60 640.00,52.20 651.00,58.00 662.20,64.00" fill="none" stroke="#7a08f8" stroke-width="1.9" stroke-linejoin="round" stroke-linecap="round" /><polyline points="626.80,42.20 640.00,50.50 662.20,63.90" fill="none" stroke="#7a08f8" stroke-width="1.2" stroke-linejoin="round" stroke-linecap="round" /><polyline points="532.20,128.80 550.00,128.90 570.00,129.20 585.00,129.20 595.00,129.00 605.00,128.40 615.00,127.30 624.00,125.70 632.40,123.60" fill="none" stroke="#7a08f8" stroke-width="1.8" stroke-linejoin="round" stroke-linecap="round" /><rect x="514" y="6.8" width="165.80" height="133.40" fill="none" stroke="#000" stroke-width="1.5"/>
<line x1="533.65" y1="314.10" x2="533.65" y2="312.80" stroke="#000" stroke-width="1" /><line x1="549.80" y1="314.10" x2="549.80" y2="312.10" stroke="#000" stroke-width="1" /><line x1="565.95" y1="314.10" x2="565.95" y2="312.80" stroke="#000" stroke-width="1" /><line x1="582.10" y1="314.10" x2="582.10" y2="312.10" stroke="#000" stroke-width="1" /><line x1="598.25" y1="314.10" x2="598.25" y2="312.80" stroke="#000" stroke-width="1" /><line x1="614.40" y1="314.10" x2="614.40" y2="312.10" stroke="#000" stroke-width="1" /><line x1="630.55" y1="314.10" x2="630.55" y2="312.80" stroke="#000" stroke-width="1" /><line x1="646.70" y1="314.10" x2="646.70" y2="312.10" stroke="#000" stroke-width="1" /><line x1="662.85" y1="314.10" x2="662.85" y2="312.80" stroke="#000" stroke-width="1" /><line x1="517.60" y1="303.60" x2="519.60" y2="303.60" stroke="#000" stroke-width="1" /><line x1="517.60" y1="292.75" x2="518.90" y2="292.75" stroke="#000" stroke-width="1" /><line x1="517.60" y1="281.90" x2="519.60" y2="281.90" stroke="#000" stroke-width="1" /><line x1="517.60" y1="271.05" x2="518.90" y2="271.05" stroke="#000" stroke-width="1" /><line x1="517.60" y1="260.20" x2="519.60" y2="260.20" stroke="#000" stroke-width="1" /><line x1="517.60" y1="249.35" x2="518.90" y2="249.35" stroke="#000" stroke-width="1" /><line x1="517.60" y1="238.50" x2="519.60" y2="238.50" stroke="#000" stroke-width="1" /><line x1="517.60" y1="227.65" x2="518.90" y2="227.65" stroke="#000" stroke-width="1" /><line x1="517.60" y1="216.80" x2="519.60" y2="216.80" stroke="#000" stroke-width="1" /><line x1="517.60" y1="205.95" x2="518.90" y2="205.95" stroke="#000" stroke-width="1" /><line x1="517.60" y1="195.10" x2="519.60" y2="195.10" stroke="#000" stroke-width="1" /><line x1="517.60" y1="184.25" x2="518.90" y2="184.25" stroke="#000" stroke-width="1" /><text x="517.50" y="324.9" font-family='"Liberation Serif", serif' font-size="10" text-anchor="middle" fill="#222">-0.6</text><text x="549.80" y="324.9" font-family='"Liberation Serif", serif' font-size="10" text-anchor="middle" fill="#222">-0.4</text><text x="582.10" y="324.9" font-family='"Liberation Serif", serif' font-size="10" text-anchor="middle" fill="#222">-0.2</text><text x="614.40" y="324.9" font-family='"Liberation Serif", serif' font-size="10" text-anchor="middle" fill="#222">0.0</text><text x="646.70" y="324.9" font-family='"Liberation Serif", serif' font-size="10" text-anchor="middle" fill="#222">0.2</text><text x="679.00" y="324.9" font-family='"Liberation Serif", serif' font-size="10" text-anchor="middle" fill="#222">0.4</text><text x="514.6" y="306.90" font-family='"Liberation Serif", serif' font-size="10" text-anchor="end" fill="#222">0.0</text><text x="514.6" y="285.20" font-family='"Liberation Serif", serif' font-size="10" text-anchor="end" fill="#222">0.2</text><text x="514.6" y="263.50" font-family='"Liberation Serif", serif' font-size="10" text-anchor="end" fill="#222">0.4</text><text x="514.6" y="241.80" font-family='"Liberation Serif", serif' font-size="10" text-anchor="end" fill="#222">0.6</text><text x="514.6" y="220.10" font-family='"Liberation Serif", serif' font-size="10" text-anchor="end" fill="#222">0.8</text><text x="514.6" y="198.40" font-family='"Liberation Serif", serif' font-size="10" text-anchor="end" fill="#222">1.0</text><polyline points="540.30,194.30 541.90,194.60 543.10,195.60 543.40,198.20 543.40,202.30 543.40,214.60 543.40,221.60 543.40,225.10 543.40,227.80 543.40,230.40 543.40,233.90 543.40,237.10 543.40,240.10 543.40,243.10 543.50,268.70 543.50,273.80 543.60,282.00 543.80,296.50 544.60,299.50 545.60,302.00 547.00,303.60 547.80,304.30" fill="none" stroke="#111" stroke-width="1.6" stroke-linejoin="round" stroke-linecap="round" /><rect x="542.00" y="200.90" width="2.8" height="2.8" fill="#444" stroke="#111" stroke-width="0.8"/><rect x="542.00" y="213.20" width="2.8" height="2.8" fill="#444" stroke="#111" stroke-width="0.8"/><rect x="542.00" y="220.20" width="2.8" height="2.8" fill="#444" stroke="#111" stroke-width="0.8"/><rect x="542.00" y="223.70" width="2.8" height="2.8" fill="#444" stroke="#111" stroke-width="0.8"/><rect x="542.00" y="226.40" width="2.8" height="2.8" fill="#444" stroke="#111" stroke-width="0.8"/><rect x="542.00" y="229.00" width="2.8" height="2.8" fill="#444" stroke="#111" stroke-width="0.8"/><rect x="542.00" y="232.50" width="2.8" height="2.8" fill="#444" stroke="#111" stroke-width="0.8"/><rect x="542.00" y="235.70" width="2.8" height="2.8" fill="#444" stroke="#111" stroke-width="0.8"/><rect x="542.00" y="238.70" width="2.8" height="2.8" fill="#444" stroke="#111" stroke-width="0.8"/><rect x="542.00" y="241.70" width="2.8" height="2.8" fill="#444" stroke="#111" stroke-width="0.8"/><rect x="542.10" y="267.30" width="2.8" height="2.8" fill="#444" stroke="#111" stroke-width="0.8"/><rect x="542.10" y="272.40" width="2.8" height="2.8" fill="#444" stroke="#111" stroke-width="0.8"/><rect x="542.20" y="280.60" width="2.8" height="2.8" fill="#444" stroke="#111" stroke-width="0.8"/><rect x="539.00" y="193.00" width="2.6" height="2.6" fill="#fff" stroke="#111" stroke-width="0.8"/><circle cx="541.90" cy="194.60" r="1.3" fill="#fff" stroke="#111" stroke-width="0.8"/><circle cx="543.10" cy="195.60" r="1.3" fill="#fff" stroke="#111" stroke-width="0.8"/><circle cx="543.80" cy="296.50" r="1.2" fill="#fff" stroke="#111" stroke-width="0.8"/><circle cx="544.60" cy="299.50" r="1.2" fill="#fff" stroke="#111" stroke-width="0.8"/><circle cx="545.60" cy="302.00" r="1.2" fill="#fff" stroke="#111" stroke-width="0.8"/><circle cx="547.00" cy="303.60" r="1.2" fill="#fff" stroke="#111" stroke-width="0.8"/><circle cx="547.80" cy="304.30" r="1.2" fill="#fff" stroke="#111" stroke-width="0.8"/><polyline points="661.00,194.30 660.50,196.20 660.00,198.30 659.80,200.00 659.80,205.80 659.80,227.10 659.80,237.50 659.80,242.50 659.80,276.40 659.80,289.80 659.60,297.50 659.00,300.00 658.20,302.20 657.40,304.00 657.00,305.00" fill="none" stroke="#ff1a1a" stroke-width="1.6" stroke-linejoin="round" stroke-linecap="round" /><rect x="659.60" y="192.90" width="2.8" height="2.8" fill="#ff7a7a" stroke="#ff1a1a" stroke-width="0.9"/><rect x="659.10" y="194.80" width="2.8" height="2.8" fill="#ff7a7a" stroke="#ff1a1a" stroke-width="0.9"/><rect x="658.60" y="196.90" width="2.8" height="2.8" fill="#ff7a7a" stroke="#ff1a1a" stroke-width="0.9"/><rect x="658.40" y="198.60" width="2.8" height="2.8" fill="#ff7a7a" stroke="#ff1a1a" stroke-width="0.9"/><rect x="658.40" y="204.40" width="2.8" height="2.8" fill="#ff7a7a" stroke="#ff1a1a" stroke-width="0.9"/><rect x="658.40" y="225.70" width="2.8" height="2.8" fill="#ff7a7a" stroke="#ff1a1a" stroke-width="0.9"/><rect x="658.40" y="236.10" width="2.8" height="2.8" fill="#ff7a7a" stroke="#ff1a1a" stroke-width="0.9"/><rect x="658.40" y="241.10" width="2.8" height="2.8" fill="#ff7a7a" stroke="#ff1a1a" stroke-width="0.9"/><rect x="658.40" y="275.00" width="2.8" height="2.8" fill="#ff7a7a" stroke="#ff1a1a" stroke-width="0.9"/><rect x="658.40" y="288.40" width="2.8" height="2.8" fill="#ff7a7a" stroke="#ff1a1a" stroke-width="0.9"/><rect x="658.20" y="296.10" width="2.8" height="2.8" fill="#ff7a7a" stroke="#ff1a1a" stroke-width="0.9"/><rect x="657.60" y="298.60" width="2.8" height="2.8" fill="#ff7a7a" stroke="#ff1a1a" stroke-width="0.9"/><rect x="656.80" y="300.80" width="2.8" height="2.8" fill="#ff7a7a" stroke="#ff1a1a" stroke-width="0.9"/><rect x="656.00" y="302.60" width="2.8" height="2.8" fill="#ff7a7a" stroke="#ff1a1a" stroke-width="0.9"/><rect x="655.60" y="303.60" width="2.8" height="2.8" fill="#ff7a7a" stroke="#ff1a1a" stroke-width="0.9"/><rect x="517.6" y="183.9" width="161.70" height="130.20" fill="none" stroke="#000" stroke-width="1.5"/>
<text x="100.34" y="336.30" font-family='"Liberation Serif", serif' font-size="13.6" font-style="italic" fill="#111" >H</text><text x="110.12" y="339.60" font-family='"Liberation Serif", serif' font-size="9.5" font-style="normal" fill="#111" >z</text><text x="118.10" y="336.30" font-family='"Liberation Serif", serif' font-size="15.11" font-style="normal" fill="#111" >(kOe)</text><text x="327.14" y="166.30" font-family='"Liberation Serif", serif' font-size="14.2" font-style="italic" fill="#111" >H</text><text x="337.61" y="169.60" font-family='"Liberation Serif", serif' font-size="9.5" font-style="normal" fill="#111" >z</text><text x="344.90" y="166.30" font-family='"Liberation Serif", serif' font-size="14.93" font-style="normal" fill="#111" >(kOe)</text><text x="572.34" y="165.80" font-family='"Liberation Serif", serif' font-size="14.2" font-style="italic" fill="#111" >H</text><text x="582.92" y="169.20" font-family='"Liberation Serif", serif' font-size="9.5" font-style="normal" fill="#111" >z</text><text x="591.20" y="165.80" font-family='"Liberation Serif", serif' font-size="14.89" font-style="normal" fill="#111" >(kOe)</text><text x="580.11" y="338.10" font-family='"Liberation Serif", serif' font-size="10.6" font-style="italic" fill="#111" >H</text><text x="586.78" y="340.50" font-family='"Liberation Serif", serif' font-size="7.2" font-style="normal" fill="#111" >z</text><text x="593.55" y="338.10" font-family='"Liberation Serif", serif' font-size="11.2" font-style="normal" fill="#111" >(kOe)</text><text x="341.10" y="337.10" font-family='"Liberation Serif", serif' font-size="14.6" font-style="italic" fill="#111" >I</text><text x="352.41" y="337.10" font-family='"Liberation Serif", serif' font-size="14.71" font-style="normal" fill="#111" >(mA)</text><g transform="translate(249.90,94.85) rotate(-90)"><text x="0.14" y="0.00" font-family='"Liberation Serif", serif' font-size="14.5" font-style="italic" fill="#111" >R</text><text x="12.36" y="0.00" font-family='"Liberation Serif", serif' font-size="14.86" font-style="normal" fill="#111" >(kΩ)</text></g><g transform="translate(268.00,266.90) rotate(-90)"><text x="0.14" y="0.00" font-family='"Liberation Serif", serif' font-size="14.5" font-style="italic" fill="#111" >R</text><text x="12.11" y="0.00" font-family='"Liberation Serif", serif' font-size="14.7" font-style="normal" fill="#111" >(kΩ)</text></g><g transform="translate(464.30,103.20) rotate(-90)"><text x="-1.05" y="0.00" font-family='"Liberation Serif", serif' font-size="15.0" font-style="italic" fill="#111" >TMR</text><text x="31.89" y="0.00" font-family='"Liberation Serif", serif' font-size="15.14" font-style="normal" fill="#111" >(%)</text></g><g transform="translate(491.18,113.65) rotate(-90)"><text x="0.00" y="0.00" font-family='"Liberation Serif", serif' font-size="14.97" font-style="italic" fill="#111" >ΔTMR/TMR</text></g><g transform="translate(29.30,281.70) rotate(-90)"><text x="0.15" y="0.00" font-family='"Liberation Serif", serif' font-size="14.4" font-style="italic" fill="#111" >M/M</text><text x="29.00" y="3.00" font-family='"Liberation Serif", serif' font-size="10.5" font-style="italic" fill="#111" >S</text><text x="36.80" y="0.00" font-family='"Liberation Serif", serif' font-size="14.88" font-style="normal" fill="#111" >(a.u.)</text></g><g transform="translate(495.53,302.80) rotate(-90)"><text x="-0.78" y="0.00" font-family='"Liberation Serif", serif' font-size="11.1" font-style="normal" fill="#111" >Switching propability</text><text x="99.28" y="0.00" font-family='"Liberation Serif", serif' font-size="11.1" font-style="italic" fill="#111" >P</text></g><text x="549.28" y="235.90" font-family='"Liberation Serif", serif' font-size="12.41" font-style="normal" fill="#111" >AP to P</text><text x="616.53" y="233.70" font-family='"Liberation Serif", serif' font-size="12.34" font-style="normal" fill="#111" >P to AP</text>
<text x="6.50" y="15.00" font-family='"Liberation Sans", sans-serif' font-size="18" text-anchor="start" fill="#000" font-weight="bold" font-style="normal" >a</text>
<text x="-0.50" y="182.00" font-family='"Liberation Sans", sans-serif' font-size="18" text-anchor="start" fill="#000" font-weight="bold" font-style="normal" >b</text>
<text x="234.90" y="10.30" font-family='"Liberation Sans", sans-serif' font-size="18" text-anchor="start" fill="#000" font-weight="bold" font-style="normal" >c</text>
<text x="232.50" y="191.00" font-family='"Liberation Sans", sans-serif' font-size="16.5" text-anchor="start" fill="#000" font-weight="bold" font-style="normal" >d</text>
<text x="474.50" y="9.00" font-family='"Liberation Sans", sans-serif' font-size="16" text-anchor="start" fill="#000" font-weight="bold" font-style="normal" >e</text>
<text x="476.50" y="188.50" font-family='"Liberation Sans", sans-serif' font-size="14.5" text-anchor="start" fill="#000" font-weight="bold" font-style="normal" >f</text>
<line x1="45.50" y1="311.50" x2="45.50" y2="309.30" stroke="#000" stroke-width="1"/><line x1="59.00" y1="311.50" x2="59.00" y2="310.10" stroke="#000" stroke-width="1"/><line x1="72.50" y1="311.50" x2="72.50" y2="309.30" stroke="#000" stroke-width="1"/><line x1="86.00" y1="311.50" x2="86.00" y2="310.10" stroke="#000" stroke-width="1"/><line x1="99.50" y1="311.50" x2="99.50" y2="309.30" stroke="#000" stroke-width="1"/><line x1="113.00" y1="311.50" x2="113.00" y2="310.10" stroke="#000" stroke-width="1"/><line x1="126.50" y1="311.50" x2="126.50" y2="309.30" stroke="#000" stroke-width="1"/><line x1="140.00" y1="311.50" x2="140.00" y2="310.10" stroke="#000" stroke-width="1"/><line x1="153.50" y1="311.50" x2="153.50" y2="309.30" stroke="#000" stroke-width="1"/><line x1="167.00" y1="311.50" x2="167.00" y2="310.10" stroke="#000" stroke-width="1"/><line x1="180.50" y1="311.50" x2="180.50" y2="309.30" stroke="#000" stroke-width="1"/><line x1="194.00" y1="311.50" x2="194.00" y2="310.10" stroke="#000" stroke-width="1"/><line x1="207.50" y1="311.50" x2="207.50" y2="309.30" stroke="#000" stroke-width="1"/><line x1="45.50" y1="293.80" x2="47.70" y2="293.80" stroke="#000" stroke-width="1"/><line x1="45.50" y1="270.90" x2="46.90" y2="270.90" stroke="#000" stroke-width="1"/><line x1="45.50" y1="248.00" x2="47.70" y2="248.00" stroke="#000" stroke-width="1"/><line x1="45.50" y1="225.10" x2="46.90" y2="225.10" stroke="#000" stroke-width="1"/><line x1="45.50" y1="202.20" x2="47.70" y2="202.20" stroke="#000" stroke-width="1"/><text x="45.50" y="323.30" font-family='"Liberation Serif", serif' font-size="10.3" font-style="normal" font-weight="normal" text-anchor="middle" fill="#222" >-3</text><text x="72.50" y="323.30" font-family='"Liberation Serif", serif' font-size="10.3" font-style="normal" font-weight="normal" text-anchor="middle" fill="#222" >-2</text><text x="99.50" y="323.30" font-family='"Liberation Serif", serif' font-size="10.3" font-style="normal" font-weight="normal" text-anchor="middle" fill="#222" >-1</text><text x="126.50" y="323.30" font-family='"Liberation Serif", serif' font-size="10.3" font-style="normal" font-weight="normal" text-anchor="middle" fill="#222" >0</text><text x="153.50" y="323.30" font-family='"Liberation Serif", serif' font-size="10.3" font-style="normal" font-weight="normal" text-anchor="middle" fill="#222" >1</text><text x="180.50" y="323.30" font-family='"Liberation Serif", serif' font-size="10.3" font-style="normal" font-weight="normal" text-anchor="middle" fill="#222" >2</text><text x="207.50" y="323.30" font-family='"Liberation Serif", serif' font-size="10.3" font-style="normal" font-weight="normal" text-anchor="middle" fill="#222" >3</text><text x="42.60" y="205.70" font-family='"Liberation Serif", serif' font-size="10.3" font-style="normal" font-weight="normal" text-anchor="end" fill="#222" >1</text><text x="42.60" y="251.50" font-family='"Liberation Serif", serif' font-size="10.3" font-style="normal" font-weight="normal" text-anchor="end" fill="#222" >0</text><text x="42.60" y="297.30" font-family='"Liberation Serif", serif' font-size="10.3" font-style="normal" font-weight="normal" text-anchor="end" fill="#222" >-1</text><polyline points="45.50,292.80 74.50,292.80 75.60,289.00 77.00,282.00 78.30,277.00 79.80,275.00 82.00,274.00 85.00,273.40 108.40,267.00 109.30,264.00 110.00,259.00 111.20,256.80 122.60,251.30 124.80,250.00 125.60,247.00 126.30,240.00 127.00,234.50 128.20,233.30 144.60,227.20 171.00,221.20 171.60,219.00 172.10,212.00 172.70,205.00 173.90,202.30 207.50,202.30" fill="none" stroke="#ff1aff" stroke-width="1.6" stroke-linejoin="round" stroke-linecap="round"/><polyline points="45.50,292.80 79.30,292.80 80.20,291.50 81.00,284.00 81.80,276.50 83.00,274.30 90.00,272.50 108.40,267.00 126.00,262.00 126.80,260.00 127.60,252.00 128.30,245.50 129.50,243.80 141.00,239.60 142.20,238.00 143.00,232.00 143.60,229.00 145.00,228.00 171.00,221.20 174.00,219.50 175.20,217.50 176.20,210.00 177.00,204.00 178.50,202.50 207.50,202.30" fill="none" stroke="#1f1fff" stroke-width="1.6" stroke-linejoin="round" stroke-linecap="round"/><rect x="45.5" y="183.8" width="162.0" height="127.70" fill="none" stroke="#000" stroke-width="1.5"/><rect x="59.00" y="255.50" width="9.80" height="35.90" fill="#fff" stroke="#262626" stroke-width="1.15"/><polygon points="63.90,265.02 67.15,261.11 65.35,261.11 65.35,257.50 62.45,257.50 62.45,261.11 60.65,261.11" fill="#52c6f2" stroke="none" stroke-width="1" stroke-linejoin="round" stroke-linecap="round"/><polygon points="63.90,273.35 67.15,269.44 65.35,269.44 65.35,265.82 62.45,265.82 62.45,269.44 60.65,269.44" fill="#3c3cf2" stroke="none" stroke-width="1" stroke-linejoin="round" stroke-linecap="round"/><polygon points="63.90,281.67 67.15,277.76 65.35,277.76 65.35,274.15 62.45,274.15 62.45,277.76 60.65,277.76" fill="#f5c0a8" stroke="none" stroke-width="1" stroke-linejoin="round" stroke-linecap="round"/><polygon points="63.90,290.00 67.15,286.09 65.35,286.09 65.35,282.47 62.45,282.47 62.45,286.09 60.65,286.09" fill="#ff30ff" stroke="none" stroke-width="1" stroke-linejoin="round" stroke-linecap="round"/><rect x="91.20" y="232.00" width="9.50" height="35.60" fill="#fff" stroke="#262626" stroke-width="1.15"/><polygon points="95.95,234.00 99.20,237.87 97.40,237.87 97.40,241.45 94.50,241.45 94.50,237.87 92.70,237.87" fill="#52c6f2" stroke="none" stroke-width="1" stroke-linejoin="round" stroke-linecap="round"/><polygon points="95.95,249.70 99.20,245.83 97.40,245.83 97.40,242.25 94.50,242.25 94.50,245.83 92.70,245.83" fill="#3c3cf2" stroke="none" stroke-width="1" stroke-linejoin="round" stroke-linecap="round"/><polygon points="95.95,257.95 99.20,254.08 97.40,254.08 97.40,250.50 94.50,250.50 94.50,254.08 92.70,254.08" fill="#f5c0a8" stroke="none" stroke-width="1" stroke-linejoin="round" stroke-linecap="round"/><polygon points="95.95,266.20 99.20,262.33 97.40,262.33 97.40,258.75 94.50,258.75 94.50,262.33 92.70,262.33" fill="#ff30ff" stroke="none" stroke-width="1" stroke-linejoin="round" stroke-linecap="round"/><rect x="112.90" y="214.10" width="9.70" height="35.60" fill="#fff" stroke="#262626" stroke-width="1.15"/><polygon points="117.75,216.10 121.00,219.97 119.20,219.97 119.20,223.55 116.30,223.55 116.30,219.97 114.50,219.97" fill="#52c6f2" stroke="none" stroke-width="1" stroke-linejoin="round" stroke-linecap="round"/><polygon points="117.75,231.80 121.00,227.93 119.20,227.93 119.20,224.35 116.30,224.35 116.30,227.93 114.50,227.93" fill="#3c3cf2" stroke="none" stroke-width="1" stroke-linejoin="round" stroke-linecap="round"/><polygon points="117.75,232.60 121.00,236.47 119.20,236.47 119.20,240.05 116.30,240.05 116.30,236.47 114.50,236.47" fill="#f5c0a8" stroke="none" stroke-width="1" stroke-linejoin="round" stroke-linecap="round"/><polygon points="117.75,248.30 121.00,244.43 119.20,244.43 119.20,240.85 116.30,240.85 116.30,244.43 114.50,244.43" fill="#ff30ff" stroke="none" stroke-width="1" stroke-linejoin="round" stroke-linecap="round"/><rect x="149.40" y="187.60" width="9.30" height="34.90" fill="#fff" stroke="#262626" stroke-width="1.15"/><polygon points="154.05,189.60 157.30,193.38 155.50,193.38 155.50,196.88 152.60,196.88 152.60,193.38 150.80,193.38" fill="#52c6f2" stroke="none" stroke-width="1" stroke-linejoin="round" stroke-linecap="round"/><polygon points="154.05,204.95 157.30,201.17 155.50,201.17 155.50,197.68 152.60,197.68 152.60,201.17 150.80,201.17" fill="#3c3cf2" stroke="none" stroke-width="1" stroke-linejoin="round" stroke-linecap="round"/><polygon points="154.05,205.75 157.30,209.53 155.50,209.53 155.50,213.02 152.60,213.02 152.60,209.53 150.80,209.53" fill="#f5c0a8" stroke="none" stroke-width="1" stroke-linejoin="round" stroke-linecap="round"/><polygon points="154.05,213.82 157.30,217.61 155.50,217.61 155.50,221.10 152.60,221.10 152.60,217.61 150.80,217.61" fill="#ff30ff" stroke="none" stroke-width="1" stroke-linejoin="round" stroke-linecap="round"/><rect x="185.90" y="207.10" width="9.80" height="35.80" fill="#fff" stroke="#262626" stroke-width="1.15"/><polygon points="190.80,209.10 194.05,213.00 192.25,213.00 192.25,216.60 189.35,216.60 189.35,213.00 187.55,213.00" fill="#52c6f2" stroke="none" stroke-width="1" stroke-linejoin="round" stroke-linecap="round"/><polygon points="190.80,217.40 194.05,221.30 192.25,221.30 192.25,224.90 189.35,224.90 189.35,221.30 187.55,221.30" fill="#3c3cf2" stroke="none" stroke-width="1" stroke-linejoin="round" stroke-linecap="round"/><polygon points="190.80,225.70 194.05,229.60 192.25,229.60 192.25,233.20 189.35,233.20 189.35,229.60 187.55,229.60" fill="#f5c0a8" stroke="none" stroke-width="1" stroke-linejoin="round" stroke-linecap="round"/><polygon points="190.80,234.00 194.05,237.90 192.25,237.90 192.25,241.50 189.35,241.50 189.35,237.90 187.55,237.90" fill="#ff30ff" stroke="none" stroke-width="1" stroke-linejoin="round" stroke-linecap="round"/><polygon points="55.70,188.80 59.30,192.65 57.30,192.65 57.30,196.20 54.10,196.20 54.10,192.65 52.10,192.65" fill="#8ad4f4" stroke="none" stroke-width="1" stroke-linejoin="round" stroke-linecap="round"/><polygon points="55.70,196.50 59.30,199.98 57.30,199.98 57.30,203.20 54.10,203.20 54.10,199.98 52.10,199.98" fill="#4848f4" stroke="none" stroke-width="1" stroke-linejoin="round" stroke-linecap="round"/><polygon points="55.70,203.80 59.30,207.34 57.30,207.34 57.30,210.60 54.10,210.60 54.10,207.34 52.10,207.34" fill="#f4a88a" stroke="none" stroke-width="1" stroke-linejoin="round" stroke-linecap="round"/><polygon points="55.70,212.00 59.30,215.38 57.30,215.38 57.30,218.50 54.10,218.50 54.10,215.38 52.10,215.38" fill="#ff38ff" stroke="none" stroke-width="1" stroke-linejoin="round" stroke-linecap="round"/><text x="60.80" y="198.20" font-family='"Liberation Sans", sans-serif' font-size="6.4" font-style="normal" font-weight="bold" text-anchor="start" fill="#3a3af2" textLength="39.2" lengthAdjust="spacingAndGlyphs">[Co/Pt]/[Co/Pt]</text><text x="60.80" y="209.00" font-family='"Liberation Sans", sans-serif' font-size="6.4" font-style="normal" font-weight="normal" text-anchor="start" fill="#f2a888" textLength="46" lengthAdjust="spacingAndGlyphs">Reference CoFeB</text><text x="60.80" y="218.00" font-family='"Liberation Sans", sans-serif' font-size="6.4" font-style="normal" font-weight="normal" text-anchor="start" fill="#ff38ff" textLength="47.2" lengthAdjust="spacingAndGlyphs">Recording CoFeB</text><text x="143.13" y="283.50" font-family='"Liberation Serif", serif' font-size="9.4" font-style="normal" font-weight="normal" text-anchor="start" fill="#ff22ff" >+</text><text x="148.90" y="283.50" font-family='"Liberation Serif", serif' font-size="9.6" font-style="italic" font-weight="normal" text-anchor="start" fill="#ff22ff" >H</text><text x="155.27" y="285.70" font-family='"Liberation Serif", serif' font-size="6.8" font-style="italic" font-weight="normal" text-anchor="start" fill="#ff22ff" >z</text><text x="171.22" y="283.50" font-family='"Liberation Serif", serif' font-size="9.4" font-style="normal" font-weight="normal" text-anchor="start" fill="#ff22ff" >-</text><text x="174.40" y="283.50" font-family='"Liberation Serif", serif' font-size="9.6" font-style="italic" font-weight="normal" text-anchor="start" fill="#ff22ff" >H</text><text x="181.07" y="285.70" font-family='"Liberation Serif", serif' font-size="6.8" font-style="italic" font-weight="normal" text-anchor="start" fill="#ff22ff" >z</text><line x1="160.40" y1="281.30" x2="166.60" y2="281.30" stroke="#ff22ff" stroke-width="0.9"/><polygon points="169.30,281.30 166.10,279.60 166.10,283.00" fill="#ff22ff" stroke="none" stroke-width="1" stroke-linejoin="round" stroke-linecap="round"/><text x="142.52" y="299.20" font-family='"Liberation Serif", serif' font-size="9.4" font-style="normal" font-weight="normal" text-anchor="start" fill="#2e2ef2" >-</text><text x="146.70" y="299.20" font-family='"Liberation Serif", serif' font-size="9.6" font-style="italic" font-weight="normal" text-anchor="start" fill="#2e2ef2" >H</text><text x="153.27" y="301.60" font-family='"Liberation Serif", serif' font-size="6.8" font-style="italic" font-weight="normal" text-anchor="start" fill="#2e2ef2" >z</text><text x="169.73" y="299.20" font-family='"Liberation Serif", serif' font-size="9.4" font-style="normal" font-weight="normal" text-anchor="start" fill="#2e2ef2" >+</text><text x="175.90" y="299.20" font-family='"Liberation Serif", serif' font-size="9.6" font-style="italic" font-weight="normal" text-anchor="start" fill="#2e2ef2" >H</text><text x="182.87" y="301.60" font-family='"Liberation Serif", serif' font-size="6.8" font-style="italic" font-weight="normal" text-anchor="start" fill="#2e2ef2" >z</text><line x1="159.00" y1="296.60" x2="165.60" y2="296.60" stroke="#2e2ef2" stroke-width="0.9"/><polygon points="168.30,296.60 165.10,294.90 165.10,298.30" fill="#2e2ef2" stroke="none" stroke-width="1" stroke-linejoin="round" stroke-linecap="round"/>
</svg></body></html>
